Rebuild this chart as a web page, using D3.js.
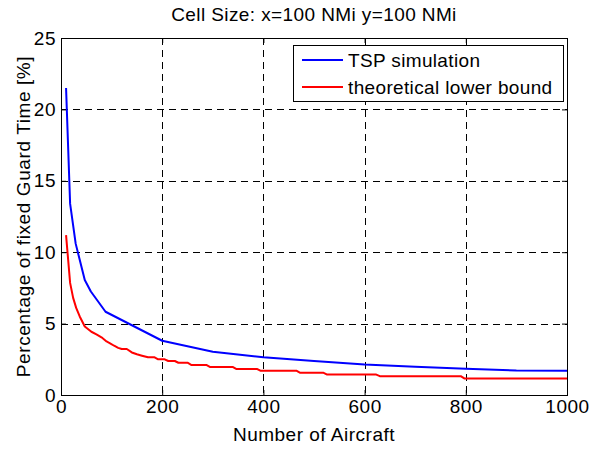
<!DOCTYPE html>
<html>
<head>
<meta charset="utf-8">
<script src="https://cdn.jsdelivr.net/npm/d3@7"></script>
<style>
  html, body { margin: 0; padding: 0; background: #fff; }
  svg { display: block; font-family: "Liberation Sans", Arial, Helvetica, sans-serif; }
</style>
</head>
<body>
<svg id="chart" width="589" height="450"></svg>
<script>
// ---- data ----
const titleText = "Cell Size: x=100 NMi y=100 NMi";
const xLabelText = "Number of Aircraft";
const yLabelText = "Percentage of fixed Guard Time [%]";
const seriesNames = ["TSP simulation", "theoretical lower bound"];
const seriesColors = ["#0000ff", "#ff0000"];

const xTicks = [0, 200, 400, 600, 800, 1000];
const yTicks = [0, 5, 10, 15, 20, 25];

const tspX = [10, 18, 29, 47, 59, 88, 200, 300, 400, 500, 600, 700, 800, 900, 1000];
const tspY = [21.5, 13.4, 10.6, 8.05, 7.25, 5.83, 3.8, 3.03, 2.64, 2.38, 2.13, 1.98, 1.84, 1.71, 1.70];

const lbX = [10, 18, 24, 30, 37, 47, 60, 70, 80, 90, 97, 105, 113, 120, 130, 140, 150, 160, 172, 185, 192, 205, 212, 225, 232, 250, 258, 288, 295, 340, 347, 388, 394, 465, 472, 518, 525, 622, 630, 790, 797, 1000];
const lbY = [11.2, 7.85, 6.8, 6.1, 5.5, 4.8, 4.43, 4.25, 4.04, 3.75, 3.62, 3.45, 3.3, 3.22, 3.22, 2.98, 2.85, 2.75, 2.64, 2.64, 2.5, 2.5, 2.38, 2.38, 2.26, 2.26, 2.1, 2.1, 1.96, 1.96, 1.82, 1.82, 1.70, 1.70, 1.56, 1.56, 1.44, 1.44, 1.32, 1.32, 1.16, 1.16];

// ---- layout ----
const svg = d3.select("#chart");
const L = 61, R = 567, T = 38, B = 395;
const FS = 19;

const x = d3.scaleLinear().domain([0, 1000]).range([L, R]);
const y = d3.scaleLinear().domain([0, 25]).range([B, T]);

// grid
const grid = svg.append("g").attr("stroke", "#000").attr("stroke-width", 1)
  .attr("stroke-dasharray", "7,5").attr("fill", "none");
xTicks.filter(d => d > 0 && d < 1000).forEach(d => {
  grid.append("line").attr("x1", Math.round(x(d)) + 0.5).attr("x2", Math.round(x(d)) + 0.5)
    .attr("y1", T).attr("y2", B);
});
yTicks.filter(d => d > 0 && d < 25).forEach(d => {
  grid.append("line").attr("y1", Math.round(y(d)) + 0.5).attr("y2", Math.round(y(d)) + 0.5)
    .attr("x1", L).attr("x2", R);
});

// lines
const line = d3.line().x(d => x(d[0])).y(d => y(d[1]));
const series = [d3.zip(tspX, tspY), d3.zip(lbX, lbY)];
series.forEach((s, i) => {
  svg.append("path").datum(s).attr("d", line)
    .attr("fill", "none").attr("stroke", seriesColors[i])
    .attr("stroke-width", 2).attr("stroke-linejoin", "round");
});

// axes
function styleAxis(g, labels) {
  g.select(".domain").remove();
  g.selectAll("line").attr("stroke", "#000");
  g.selectAll("text").attr("font-size", FS).attr("fill", "#000")
    .attr("font-family", "Liberation Sans, Arial, sans-serif")
    .style("letter-spacing", "0.5px");
  if (!labels) g.selectAll("text").remove();
}
svg.append("g").attr("transform", `translate(0,${B})`)
  .call(d3.axisBottom(x).tickValues(xTicks).tickSizeInner(-5).tickSizeOuter(0).tickPadding(5).tickFormat(d3.format("d")))
  .call(g => styleAxis(g, true));
svg.append("g").attr("transform", `translate(0,${T})`)
  .call(d3.axisTop(x).tickValues(xTicks).tickSizeInner(-5).tickSizeOuter(0))
  .call(g => styleAxis(g, false));
svg.append("g").attr("transform", `translate(${L},0)`)
  .call(d3.axisLeft(y).tickValues(yTicks).tickSizeInner(-5).tickSizeOuter(0).tickPadding(5).tickFormat(d3.format("d")))
  .call(g => styleAxis(g, true));
svg.append("g").attr("transform", `translate(${R},0)`)
  .call(d3.axisRight(y).tickValues(yTicks).tickSizeInner(-5).tickSizeOuter(0))
  .call(g => styleAxis(g, false));

// box
svg.append("rect").attr("x", L + 0.5).attr("y", T + 0.5)
  .attr("width", R - L).attr("height", B - T)
  .attr("fill", "none").attr("stroke", "#000").attr("stroke-width", 1);

// title & labels
svg.append("text").attr("x", (L + R) / 2).attr("y", 21).attr("text-anchor", "middle")
  .attr("font-size", FS).style("letter-spacing", "0.4px").text(titleText);
svg.append("text").attr("x", (L + R) / 2).attr("y", 441).attr("text-anchor", "middle")
  .attr("font-size", FS).style("letter-spacing", "0.5px").text(xLabelText);
svg.append("text").attr("transform", `translate(30,${(T + B) / 2}) rotate(-90)`)
  .attr("text-anchor", "middle").attr("font-size", FS).style("letter-spacing", "0.6px").text(yLabelText);

// legend
const lg = svg.append("g");
lg.append("rect").attr("x", 293.5).attr("y", 45.5).attr("width", 270).attr("height", 56)
  .attr("fill", "#fff").attr("stroke", "#000").attr("stroke-width", 1);
seriesNames.forEach((name, i) => {
  const yy = 60 + i * 27;
  lg.append("line").attr("x1", 302).attr("x2", 343).attr("y1", yy).attr("y2", yy)
    .attr("stroke", seriesColors[i]).attr("stroke-width", 2);
  lg.append("text").attr("x", 348).attr("y", yy).attr("dy", "0.35em")
    .attr("font-size", FS).style("letter-spacing", "0.35px").text(name);
});
</script>
</body>
</html>
